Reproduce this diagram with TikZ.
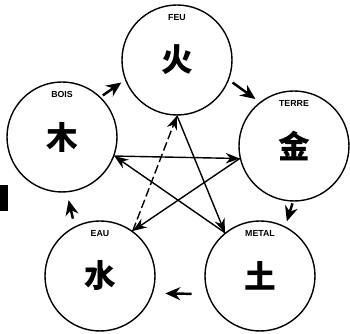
\documentclass[tikz,border=0pt]{standalone}
\usepackage{fontspec}
\setsansfont{Liberation Sans}
\newfontfamily\cjk{Noto Sans CJK SC}
\usetikzlibrary{arrows.meta,positioning}

\tikzset{
  elem/.style={circle, draw=black, thick, minimum size=2.2cm, inner sep=0pt,
    font=\cjk\bfseries\fontsize{18}{18}\selectfont},
  lbl/.style={inner sep=0pt, font=\sffamily\bfseries\fontsize{5}{5}\selectfont},
  cyc/.style={-{Stealth[length=3mm,width=2.6mm]}, line width=1.4pt},
  starline/.style={-{Stealth[length=2.8mm,width=2.1mm]}, thick},
  dashline/.style={dash pattern=on 5pt off 2pt},
}

\begin{document}
\begin{tikzpicture}
\useasboundingbox (0,0) rectangle (7,-6.68);
% the five elements
  \node[elem] (feu) at (3.54,-1.20) {火};
  \node[elem] (bois) at (1.24,-2.74) {木};
  \node[elem] (terre) at (5.88,-2.92) {金};
  \node[elem] (eau) at (2.00,-5.52) {水};
  \node[elem] (metal) at (5.20,-5.52) {土};
  % names inside the circles
  \node[lbl, below=0.2cm of feu.north] (feulbl) {FEU};
  \node[lbl, below=0.2cm of bois.north] (boislbl) {BOIS};
  \node[lbl, below=0.2cm of terre.north] (terrelbl) {TERRE};
  \node[lbl, below=0.2cm of eau.north] (eaulbl) {EAU};
  \node[lbl, below=0.2cm of metal.north] (metallbl) {METAL};

% outer cycle
  \draw[cyc, shorten <=1.5pt, shorten >=2.5pt] (bois.46) -- (feu.201);
  \draw[cyc, shorten <=2.5pt, shorten >=3pt] (feu.339) -- (terre.128);
  \draw[cyc, shorten <=1pt, shorten >=3pt] (terre.269) -- (metal.63);
  \draw[cyc, shorten <=9pt, shorten >=7pt] (metal.199) -- (eau.342);
  \draw[cyc, shorten <=4.5pt, shorten >=4.5pt] (eau.117) -- (bois.275);

% the star
  \draw[starline, dashline] (eau.54) -- (feu.270);
  \draw[starline] (feu.270) -- (metal.129);
  \draw[starline] (metal.129) -- (bois.340);
  \draw[starline] (bois.340) -- (terre.193);
  \draw[starline] (terre.193) -- (eau.54);

% black mark on the left edge
\fill[black] (0,-3.70) rectangle (0.16,-4.22);
\end{tikzpicture}
\end{document}
